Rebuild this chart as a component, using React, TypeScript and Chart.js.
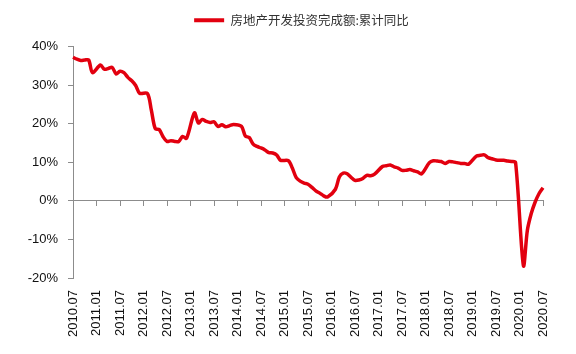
import React, { useEffect, useRef } from "react";
import { Chart, registerables } from "chart.js";

Chart.register(...registerables);

const seriesName = "房地产开发投资完成额:累计同比";
const startYear = 2010;
const startMonth = 7;

const v2010 = [37.2, 36.7, 36.4, 36.5, 36.5, 33.2];
const v2011 = [null, 35.2, 34.1, 34.3, 34.6, 32.9, 33.6, 33.2, 32.0, 31.1, 29.9, 27.9];
const v2012 = [null, 27.8, 23.5, 18.7, 18.5, 16.6, 15.4, 15.6, 15.4, 15.4, 16.7, 16.2];
const v2013 = [null, 22.8, 20.2, 21.1, 20.6, 20.3, 20.5, 19.3, 19.7, 19.2, 19.5, 19.8];
const v2014 = [null, 19.3, 16.8, 16.4, 14.7, 14.1, 13.7, 13.2, 12.5, 12.4, 11.9, 10.5];
const v2015 = [null, 10.4, 8.5, 6.0, 5.1, 4.6, 4.3, 3.5, 2.6, 2.0, 1.3, 1.0];
const v2016 = [null, 3.0, 6.2, 7.2, 7.0, 6.1, 5.3, 5.4, 5.8, 6.6, 6.5, 6.9];
const v2017 = [null, 8.9, 9.1, 9.3, 8.8, 8.5, 7.9, 7.9, 8.1, 7.8, 7.5, 7.0];
const v2018 = [null, 9.9, 10.4, 10.3, 10.2, 9.7, 10.2, 10.1, 9.9, 9.7, 9.7, 9.5];
const v2019 = [null, 11.6, 11.8, 11.9, 11.2, 10.9, 10.6, 10.5, 10.5, 10.3, 10.2, 9.9];
const v2020 = [null, -16.8, -7.7, -3.3, -0.3, 1.9, 3.4];

const values: (number | null)[] = [
  ...v2010, ...v2011, ...v2012, ...v2013, ...v2014, ...v2015,
  ...v2016, ...v2017, ...v2018, ...v2019, ...v2020,
];

const categories: string[] = values.map((_, i) => {
  const m0 = startMonth - 1 + i;
  const y = startYear + Math.floor(m0 / 12);
  const m = (m0 % 12) + 1;
  return `${y}.${m < 10 ? "0" + m : m}`;
});

const yTicks = [-20, -10, 0, 10, 20, 30, 40];

const AXIS = "#8c8c8c";
const RED = "#E2000F";

const legendTweak = {
  id: "legendTweak",
  beforeInit(chart: any) {
    const legend = chart.legend;
    if (!legend) return;
    const orig = legend.fit;
    legend.fit = function () {
      orig.call(this);
      this.height += 10;
    };
  },
  afterLayout(chart: any) {
    const legend = chart.legend;
    if (!legend) return;
    legend.left += 30;
    legend.right += 30;
  },
};

export default function App() {
  const ref = useRef<HTMLCanvasElement>(null);
  useEffect(() => {
    if (!ref.current) return;
    const chart = new Chart(ref.current, {
      type: "line",
      data: {
        labels: categories,
        datasets: [
          {
            label: seriesName,
            data: values,
            borderColor: RED,
            backgroundColor: RED,
            borderWidth: 3.5,
            pointRadius: 0,
            tension: 0.3,
            spanGaps: true,
            xAxisID: "x",
            yAxisID: "y",
          },
        ],
      },
      plugins: [legendTweak],
      options: {
        animation: false,
        responsive: false,
        maintainAspectRatio: false,
        layout: { padding: { left: 0, right: 33, top: 0, bottom: 0 } },
        plugins: {
          legend: {
            display: true,
            position: "top",
            labels: {
              boxWidth: 30,
              boxHeight: 4,
              padding: 14,
              color: "#333",
              font: { family: "'Noto Sans CJK SC', sans-serif", size: 12.5 },
              generateLabels: (ch: any) => {
                const items = Chart.defaults.plugins.legend.labels.generateLabels(ch);
                return items.map((it: any) => ({ ...it, lineWidth: 0, fillStyle: RED, strokeStyle: RED }));
              },
            },
          },
          tooltip: { enabled: false },
        },
        scales: {
          x: {
            type: "category",
            position: "bottom",
            offset: false,
            grid: { display: false },
            border: { display: false },
            ticks: {
              autoSkip: false,
              maxRotation: 90,
              minRotation: 90,
              padding: 4,
              color: "#111",
              font: { family: "'Liberation Sans', Arial, sans-serif", size: 13 },
              callback: (_v: any, i: number) => (i % 6 === 0 ? categories[i] : null),
            },
            afterFit: (s: any) => {
              s.height = 76;
            },
          },
          x2: {
            type: "category",
            position: { y: 0 },
            offset: false,
            grid: {
              display: true,
              drawOnChartArea: false,
              drawTicks: true,
              tickLength: 5,
              color: (c: any) => (c.index % 6 === 0 ? AXIS : "rgba(0,0,0,0)"),
              tickColor: (c: any) => (c.index % 6 === 0 ? AXIS : "rgba(0,0,0,0)"),
            },
            border: { display: true, color: AXIS, width: 1 },
            ticks: { display: false },
          },
          y: {
            type: "linear",
            min: -20,
            max: 40,
            afterBuildTicks: (s: any) => {
              s.ticks = yTicks.map((v) => ({ value: v }));
            },
            grid: {
              display: true,
              drawOnChartArea: false,
              drawTicks: true,
              tickLength: 5,
              color: AXIS,
            },
            border: { display: true, color: AXIS, width: 1 },
            ticks: {
              padding: 10,
              color: "#111",
              font: { family: "'Liberation Sans', Arial, sans-serif", size: 13 },
              callback: (v: any) => `${v}%`,
            },
            afterFit: (s: any) => {
              s.width = 73;
            },
          },
        },
      },
    });
    return () => chart.destroy();
  }, []);
  return (
    <div style={{ position: "fixed", left: 0, top: 0, width: 576, height: 354, background: "#fff" }}>
      <canvas ref={ref} width={576} height={354} style={{ width: 576, height: 354 }} />
    </div>
  );
}
